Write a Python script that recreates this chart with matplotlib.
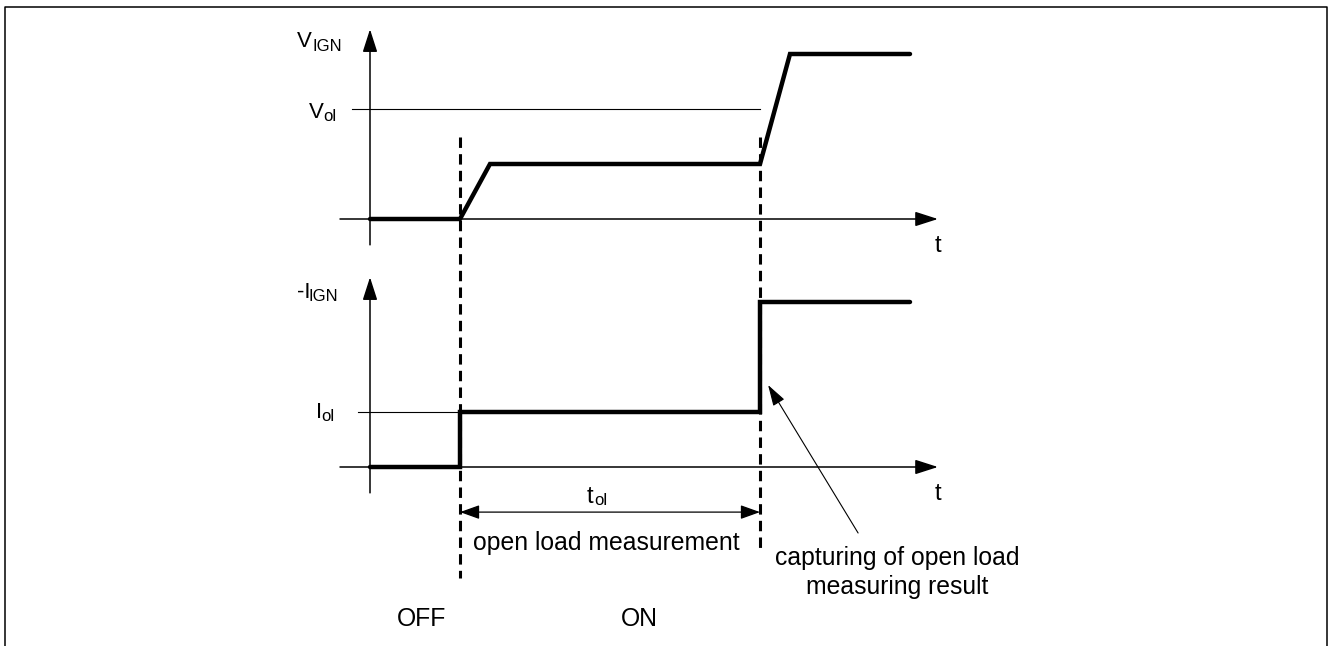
import matplotlib
matplotlib.use("Agg")
from matplotlib import pyplot as plt
from matplotlib.lines import Line2D

# time points (arbitrary units) and levels (arbitrary units)
t_v = [0, 3, 4, 13, 14, 18]
v_sig = [0, 0, 1, 1, 3, 3]
t_i = [0, 3, 3, 13, 13, 18]
i_sig = [0, 0, 1, 1, 3, 3]
v_ol = 2
i_ol = 1
t_on = 3      # switch ON / start of open load measurement
t_cap = 13    # capture of open load result

W, H = 1329, 646
X0, SX = 370, 30        # pixel of t=0, pixels per time unit
Y_TOP, Y_BOT, SY = 219, 467, 55

plt.rcParams['font.family'] = ['Liberation Sans', 'DejaVu Sans']
plt.rcParams['lines.scale_dashes'] = False

fig = plt.figure(figsize=(W / 100, H / 100), dpi=100)


def make_ax(y0):
    ax = fig.add_axes([0, 0, 1, 1])
    ax.patch.set_visible(False)
    ax.set_xlim(-X0 / SX, (W - X0) / SX)
    ax.set_ylim((y0 - H) / SY, y0 / SY)
    ax.axis('off')
    return ax


ax_v = make_ax(Y_TOP)
ax_i = make_ax(Y_BOT)

axis_kw = dict(arrowstyle='-|>,head_length=14,head_width=4.5', mutation_scale=1,
               lw=1.1, color='k', shrinkA=0, shrinkB=0)

for ax in (ax_v, ax_i):
    # time axis and amplitude axis
    ax.annotate('', xy=(18.93, 0), xytext=(-1, 0), arrowprops=axis_kw)
    ax.annotate('', xy=(0, 3.45), xytext=(0, -0.47), arrowprops=axis_kw)

# thresholds
ax_v.plot([-0.6, t_cap], [v_ol, v_ol], color='k', lw=0.8)
ax_i.plot([-0.4, t_cap], [i_ol, i_ol], color='k', lw=0.8)

# signals
ax_v.plot(t_v, v_sig, color='k', lw=3.2, solid_joinstyle='miter', solid_capstyle='round')
ax_i.plot(t_i, i_sig, color='k', lw=3.2, solid_joinstyle='miter', solid_capstyle='round')

# dashed markers across both panels
dash = (0, (7.5, 4.5))
ax_i.plot([t_on, t_on], [6.0, -2.02], color='k', lw=2.2, ls=dash)
ax_i.plot([t_cap, t_cap], [6.0, -1.51], color='k', lw=2.2, ls=dash)

# t_ol span
ax_i.annotate('', xy=(t_cap, -0.82), xytext=(t_on, -0.82),
              arrowprops=dict(arrowstyle='<|-|>,head_length=12,head_width=4.3',
                              mutation_scale=1, lw=0.9, color='k', shrinkA=0, shrinkB=0))

# pointer to capture edge
ax_i.annotate('', xy=(13.27, 1.49), xytext=(16.27, -1.2),
              arrowprops=dict(arrowstyle='-|>,head_length=13,head_width=4',
                              mutation_scale=1, lw=0.8, color='k', shrinkA=0, shrinkB=0))


def txt(x, y, s, size=17, **kw):
    kw.setdefault('va', 'baseline')
    kw.setdefault('ha', 'left')
    fig.text(x / W, 1 - y / H, s, fontsize=size, **kw)


# axis labels
txt(297, 47, 'V', 16)
txt(312, 51, 'IGN', 12)
txt(309, 118, 'V', 16)
txt(323, 121, 'ol', 12)
txt(297, 298, '-I', 16)
txt(309, 301, 'IGN', 12)
txt(316, 418, 'I', 16)
txt(321, 421, 'ol', 12)
txt(938, 246, 't', 17, ha='center', va='center')
txt(938, 494, 't', 17, ha='center', va='center')
txt(587, 503, 't', 17)
txt(594, 505, 'ol', 12)

txt(606, 543, 'open load measurement', 17.8, ha='center', va='center')
txt(897, 558, 'capturing of open load', 17.8, ha='center', va='center')
txt(897, 587, 'measuring result', 17.8, ha='center', va='center')
txt(422, 619, 'OFF', 17.8, ha='center', va='center')
txt(639, 619, 'ON', 17.8, ha='center', va='center')

# frame (open at the bottom)
fig.add_artist(Line2D([5 / W, 5 / W, 1327 / W, 1327 / W],
                      [0, 1 - 7 / H, 1 - 7 / H, 0],
                      transform=fig.transFigure, color='k', lw=1.1))

fig.savefig('out.png', dpi=100)
